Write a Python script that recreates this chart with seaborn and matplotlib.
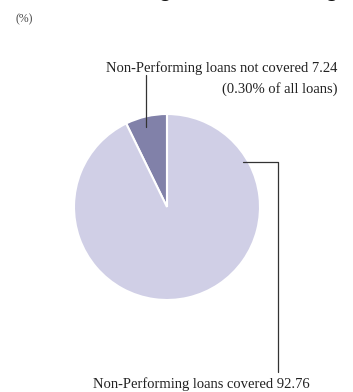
import matplotlib
matplotlib.use("Agg")
import matplotlib.pyplot as plt
import seaborn as sns

# share of non-performing loans (%)
labels = ["Non-Performing loans not covered", "Non-Performing loans covered"]
values = [7.24, 92.76]
colors = ["#8181a9", "#d0cfe6"]

sns.set_style("white")
plt.rcParams["font.family"] = ["Liberation Serif", "DejaVu Serif"]

W, H = 353, 392
fig = plt.figure(figsize=(W / 100, H / 100), dpi=100)
ax = fig.add_axes([0, 0, 1, 1])

# pixel-like coordinates, y going up
cx, cy, r = 167, H - 207, 93
ax.pie(values, colors=colors, startangle=90, counterclock=True,
       center=(cx, cy), radius=r,
       wedgeprops=dict(edgecolor="white", linewidth=1.5))
ax.set_xlim(0, W)
ax.set_ylim(0, H)
ax.set_aspect("equal")
ax.axis("off")

# title, cut off by the top edge in the original
ax.text(177, H + 4.5, "Non-Performing Loans Coverage", fontsize=16, fontweight="bold",
        family=["Liberation Sans", "DejaVu Sans"], ha="center", va="baseline", color="#111")
ax.text(16, H - 22, "(%)", fontsize=8.5, color="#444", ha="left", va="baseline")

line_kw = dict(color="#333333", lw=0.9)
# top label
ax.text(337, H - 72, f"{labels[0]} {values[0]:.2f}", fontsize=10.5, ha="right", va="baseline", color="#222")
ax.text(337, H - 93, "(0.30% of all loans)", fontsize=10.5, ha="right", va="baseline", color="#222")
ax.plot([146, 146], [H - 75, H - 127], **line_kw)

# bottom label
ax.plot([243, 278, 278], [H - 162, H - 162, H - 372], **line_kw)
ax.text(310, H - 388, f"{labels[1]} {values[1]:.2f}", fontsize=10.5, ha="right", va="baseline", color="#222")

fig.savefig("out.png", dpi=100)
